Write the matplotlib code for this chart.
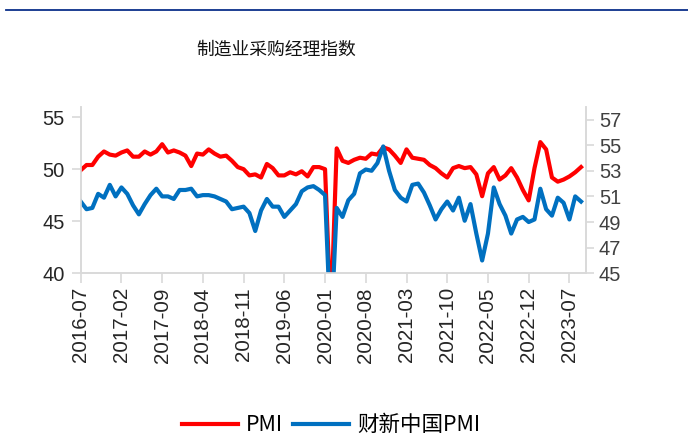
import matplotlib
matplotlib.use("Agg")
import matplotlib.pyplot as plt
from matplotlib.lines import Line2D

plt.rcParams['font.family'] = ['Liberation Sans', 'Noto Sans CJK SC', 'DejaVu Sans']

# monthly data, 2016-07 .. 2023-09
months = []
for y in range(2016, 2024):
    for m in range(1, 13):
        if (y == 2016 and m < 7) or (y == 2023 and m > 9):
            continue
        months.append(f"{y}-{m:02d}")

pmi = [
    49.9, 50.4, 50.4, 51.2, 51.7, 51.4,
    51.3, 51.6, 51.8, 51.2, 51.2, 51.7, 51.4, 51.7, 52.4, 51.6, 51.8, 51.6,
    51.3, 50.3, 51.5, 51.4, 51.9, 51.5, 51.2, 51.3, 50.8, 50.2, 50.0, 49.4,
    49.5, 49.2, 50.5, 50.1, 49.4, 49.4, 49.7, 49.5, 49.8, 49.3, 50.2, 50.2,
    50.0, 35.7, 52.0, 50.8, 50.6, 50.9, 51.1, 51.0, 51.5, 51.4, 52.1, 51.9,
    51.3, 50.6, 51.9, 51.1, 51.0, 50.9, 50.4, 50.1, 49.6, 49.2, 50.1, 50.3,
    50.1, 50.2, 49.5, 47.4, 49.6, 50.2, 49.0, 49.4, 50.1, 49.2, 48.0, 47.0,
    50.1, 52.6, 51.9, 49.2, 48.8, 49.0, 49.3, 49.7, 50.2,
]
caixin_pmi = [
    50.6, 50.0, 50.1, 51.2, 50.9, 51.9,
    51.0, 51.7, 51.2, 50.3, 49.6, 50.4, 51.1, 51.6, 51.0, 51.0, 50.8, 51.5,
    51.5, 51.6, 51.0, 51.1, 51.1, 51.0, 50.8, 50.6, 50.0, 50.1, 50.2, 49.7,
    48.3, 49.9, 50.8, 50.2, 50.2, 49.4, 49.9, 50.4, 51.4, 51.7, 51.8, 51.5,
    51.1, 40.3, 50.1, 49.4, 50.7, 51.2, 52.8, 53.1, 53.0, 53.6, 54.9, 53.0,
    51.5, 50.9, 50.6, 51.9, 52.0, 51.3, 50.3, 49.2, 50.0, 50.6, 49.9, 50.9,
    49.1, 50.4, 48.1, 46.0, 48.1, 51.7, 50.4, 49.5, 48.1, 49.2, 49.4, 49.0,
    49.2, 51.6, 50.0, 49.5, 50.9, 50.5, 49.2, 51.0, 50.6,
]

red = '#FF0000'
blue = '#0070C0'
grey = '#D9D9D9'

fig = plt.figure(figsize=(6.88, 4.4), dpi=100)
ax = fig.add_axes([0.1173, 0.3789, 0.7340, 0.3786])
ax2 = ax.twinx()

x = list(range(len(months)))
ax.plot(x, pmi, color=red, lw=3, solid_joinstyle='round', zorder=3)
ax2.plot(x, caixin_pmi, color=blue, lw=3, solid_joinstyle='round', zorder=2)

ax.set_xlim(0, 86.8)
ax.set_ylim(40, 56)
ax.set_yticks([40, 45, 50, 55])
ax2.set_ylim(45, 58)
ax2.set_yticks(range(45, 58, 2))

ticks = x[::7]
ax.set_xticks(ticks)
ax.set_xticklabels([months[i] for i in ticks], rotation=90, fontsize=14.8, color='#262626')

for a in (ax, ax2):
    for s in a.spines.values():
        s.set_color(grey)
        s.set_linewidth(1.2)
    a.spines['top'].set_visible(False)
    a.set_facecolor('none')
ax.tick_params(axis='x', length=7, width=1.2, color=grey, pad=3)
ax.tick_params(axis='y', length=6.5, width=1.2, color=grey, pad=5,
               labelsize=14.5, labelcolor='#262626')
ax2.tick_params(axis='y', length=5.5, width=1.2, color=grey, pad=4,
                labelsize=14.5, labelcolor='#404040')

fig.add_artist(Line2D([6 / 688, 1], [1 - 10.5 / 440] * 2, color='#0B2F8A', lw=1.3))
fig.text(0.402, 0.888, '制造业采购经理指数', ha='center', va='center',
         fontsize=12.8, fontweight='medium', family=['Noto Sans CJK SC'], color='#111111')

handles = [Line2D([], [], color=red, lw=3), Line2D([], [], color=blue, lw=3)]
fig.legend(handles, ['PMI', '财新中国PMI'], loc='center', bbox_to_anchor=(0.481, 0.034),
           ncol=2, frameon=False, handlelength=2.6, handletextpad=0.35, columnspacing=0.5,
           prop={'family': ['Noto Sans CJK SC'], 'size': 15.5})

fig.savefig('out.png', dpi=100)
